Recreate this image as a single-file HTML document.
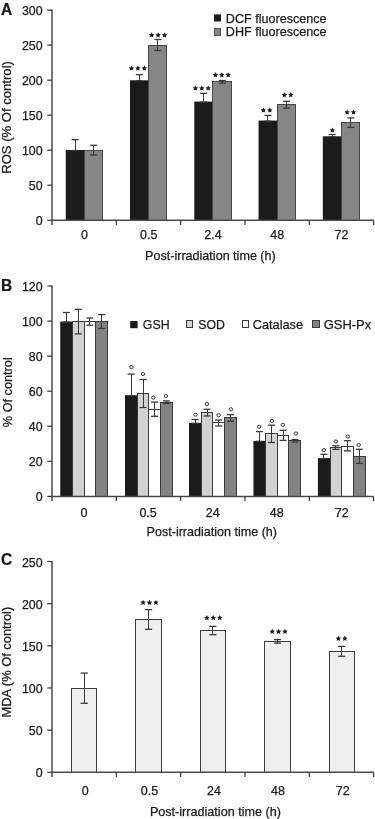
<!DOCTYPE html>
<html><head><meta charset="utf-8"><title>Figure</title>
<style>
html,body{margin:0;padding:0;background:#fff;}
body{width:375px;height:819px;overflow:hidden;}
svg{display:block;filter:blur(0.3px);}
text{font-family:"Liberation Sans",sans-serif;}
</style></head><body>
<svg width="375" height="819" viewBox="0 0 375 819" font-family="'Liberation Sans', sans-serif"><rect width="375" height="819" fill="#ffffff"/><text x="0" y="0" font-size="16" text-anchor="start" font-weight="bold" fill="#1a1a1a" stroke="#1a1a1a" stroke-width="0.25" transform="translate(0.9,14.7) scale(0.97,1)">A</text><rect x="65.75" y="150" width="18.65" height="70.3" fill="#1b1b1b"/><rect x="84.5" y="150.5" width="18.0" height="70.0" fill="#868686" stroke="#474747" stroke-width="1.0"/><rect x="130.02" y="80.3" width="18.65" height="140" fill="#1b1b1b"/><rect x="148.5" y="45.5" width="18.0" height="175.0" fill="#868686" stroke="#474747" stroke-width="1.0"/><rect x="194.29" y="101.6" width="18.65" height="118.7" fill="#1b1b1b"/><rect x="212.5" y="81.5" width="19.0" height="139.0" fill="#868686" stroke="#474747" stroke-width="1.0"/><rect x="258.56" y="120.6" width="18.65" height="99.7" fill="#1b1b1b"/><rect x="277.5" y="104.5" width="18.0" height="116.0" fill="#868686" stroke="#474747" stroke-width="1.0"/><rect x="322.83" y="136.3" width="18.65" height="84" fill="#1b1b1b"/><rect x="341.5" y="122.5" width="18.0" height="98.0" fill="#868686" stroke="#474747" stroke-width="1.0"/><line x1="75.5" y1="139.6" x2="75.5" y2="150.5" stroke="#3a3a3a" stroke-width="1.0" /><line x1="71.58" y1="139.6" x2="78.58" y2="139.6" stroke="#3a3a3a" stroke-width="1.3" /><line x1="71.58" y1="150.5" x2="78.58" y2="150.5" stroke="#3a3a3a" stroke-width="1.3" /><line x1="93.5" y1="145.3" x2="93.5" y2="155" stroke="#3a3a3a" stroke-width="1.0" /><line x1="90.23" y1="145.3" x2="97.23" y2="145.3" stroke="#3a3a3a" stroke-width="1.3" /><line x1="90.23" y1="155" x2="97.23" y2="155" stroke="#3a3a3a" stroke-width="1.3" /><line x1="139.5" y1="74.7" x2="139.5" y2="80.8" stroke="#3a3a3a" stroke-width="1.0" /><line x1="135.85" y1="74.7" x2="142.85" y2="74.7" stroke="#3a3a3a" stroke-width="1.3" /><line x1="135.85" y1="80.8" x2="142.85" y2="80.8" stroke="#3a3a3a" stroke-width="1.3" /><line x1="157.5" y1="39.5" x2="157.5" y2="50.5" stroke="#3a3a3a" stroke-width="1.0" /><line x1="154.5" y1="39.5" x2="161.5" y2="39.5" stroke="#3a3a3a" stroke-width="1.3" /><line x1="154.5" y1="50.5" x2="161.5" y2="50.5" stroke="#3a3a3a" stroke-width="1.3" /><line x1="203.5" y1="93.3" x2="203.5" y2="102.1" stroke="#3a3a3a" stroke-width="1.0" /><line x1="200.12" y1="93.3" x2="207.12" y2="93.3" stroke="#3a3a3a" stroke-width="1.3" /><line x1="200.12" y1="102.1" x2="207.12" y2="102.1" stroke="#3a3a3a" stroke-width="1.3" /><line x1="222.5" y1="80.5" x2="222.5" y2="83.3" stroke="#3a3a3a" stroke-width="1.0" /><line x1="218.76" y1="80.5" x2="225.76" y2="80.5" stroke="#3a3a3a" stroke-width="1.3" /><line x1="218.76" y1="83.3" x2="225.76" y2="83.3" stroke="#3a3a3a" stroke-width="1.3" /><line x1="267.5" y1="115.4" x2="267.5" y2="121.1" stroke="#3a3a3a" stroke-width="1.0" /><line x1="264.39" y1="115.4" x2="271.39" y2="115.4" stroke="#3a3a3a" stroke-width="1.3" /><line x1="264.39" y1="121.1" x2="271.39" y2="121.1" stroke="#3a3a3a" stroke-width="1.3" /><line x1="286.5" y1="101.3" x2="286.5" y2="108.1" stroke="#3a3a3a" stroke-width="1.0" /><line x1="283.04" y1="101.3" x2="290.04" y2="101.3" stroke="#3a3a3a" stroke-width="1.3" /><line x1="283.04" y1="108.1" x2="290.04" y2="108.1" stroke="#3a3a3a" stroke-width="1.3" /><line x1="332.5" y1="134.5" x2="332.5" y2="136.8" stroke="#3a3a3a" stroke-width="1.0" /><line x1="328.66" y1="134.5" x2="335.66" y2="134.5" stroke="#3a3a3a" stroke-width="1.3" /><line x1="328.66" y1="136.8" x2="335.66" y2="136.8" stroke="#3a3a3a" stroke-width="1.3" /><line x1="350.5" y1="117.9" x2="350.5" y2="127.4" stroke="#3a3a3a" stroke-width="1.0" /><line x1="347.31" y1="117.9" x2="354.31" y2="117.9" stroke="#3a3a3a" stroke-width="1.3" /><line x1="347.31" y1="127.4" x2="354.31" y2="127.4" stroke="#3a3a3a" stroke-width="1.3" /><line x1="52" y1="9.5" x2="52" y2="224.9" stroke="#4a4a4a" stroke-width="1.5" /><line x1="47.3" y1="220.3" x2="52" y2="220.3" stroke="#333" stroke-width="1.2" /><text x="42.6" y="225.3" font-size="12.4" text-anchor="end" font-weight="normal" fill="#1a1a1a" stroke="#1a1a1a" stroke-width="0.25" >0</text><line x1="47.3" y1="185.27" x2="52" y2="185.27" stroke="#333" stroke-width="1.2" /><text x="42.6" y="190.27" font-size="12.4" text-anchor="end" font-weight="normal" fill="#1a1a1a" stroke="#1a1a1a" stroke-width="0.25" >50</text><line x1="47.3" y1="150.23" x2="52" y2="150.23" stroke="#333" stroke-width="1.2" /><text x="42.6" y="155.23" font-size="12.4" text-anchor="end" font-weight="normal" fill="#1a1a1a" stroke="#1a1a1a" stroke-width="0.25" >100</text><line x1="47.3" y1="115.2" x2="52" y2="115.2" stroke="#333" stroke-width="1.2" /><text x="42.6" y="120.2" font-size="12.4" text-anchor="end" font-weight="normal" fill="#1a1a1a" stroke="#1a1a1a" stroke-width="0.25" >150</text><line x1="47.3" y1="80.17" x2="52" y2="80.17" stroke="#333" stroke-width="1.2" /><text x="42.6" y="85.17" font-size="12.4" text-anchor="end" font-weight="normal" fill="#1a1a1a" stroke="#1a1a1a" stroke-width="0.25" >200</text><line x1="47.3" y1="45.13" x2="52" y2="45.13" stroke="#333" stroke-width="1.2" /><text x="42.6" y="50.13" font-size="12.4" text-anchor="end" font-weight="normal" fill="#1a1a1a" stroke="#1a1a1a" stroke-width="0.25" >250</text><line x1="47.3" y1="10.1" x2="52" y2="10.1" stroke="#333" stroke-width="1.2" /><text x="42.6" y="15.1" font-size="12.4" text-anchor="end" font-weight="normal" fill="#1a1a1a" stroke="#1a1a1a" stroke-width="0.25" >300</text><line x1="52" y1="220.3" x2="373.6" y2="220.3" stroke="#4a4a4a" stroke-width="1.5" /><line x1="116.32" y1="220.3" x2="116.32" y2="224.9" stroke="#333" stroke-width="1.2" /><line x1="180.64" y1="220.3" x2="180.64" y2="224.9" stroke="#333" stroke-width="1.2" /><line x1="244.96" y1="220.3" x2="244.96" y2="224.9" stroke="#333" stroke-width="1.2" /><line x1="309.28" y1="220.3" x2="309.28" y2="224.9" stroke="#333" stroke-width="1.2" /><line x1="373.6" y1="220.3" x2="373.6" y2="224.9" stroke="#333" stroke-width="1.2" /><text x="84.4" y="239" font-size="12.5" text-anchor="middle" font-weight="normal" fill="#1a1a1a" stroke="#1a1a1a" stroke-width="0.25" >0</text><text x="148.67" y="239" font-size="12.5" text-anchor="middle" font-weight="normal" fill="#1a1a1a" stroke="#1a1a1a" stroke-width="0.25" >0.5</text><text x="212.94" y="239" font-size="12.5" text-anchor="middle" font-weight="normal" fill="#1a1a1a" stroke="#1a1a1a" stroke-width="0.25" >2.4</text><text x="277.21" y="239" font-size="12.5" text-anchor="middle" font-weight="normal" fill="#1a1a1a" stroke="#1a1a1a" stroke-width="0.25" >48</text><text x="341.48" y="239" font-size="12.5" text-anchor="middle" font-weight="normal" fill="#1a1a1a" stroke="#1a1a1a" stroke-width="0.25" >72</text><path d="M131.50,65.45L132.34,67.15L134.21,67.42L132.86,68.74L133.18,70.61L131.50,69.72L129.82,70.61L130.14,68.74L128.79,67.42L130.66,67.15ZM137.90,65.45L138.74,67.15L140.61,67.42L139.26,68.74L139.58,70.61L137.90,69.72L136.22,70.61L136.54,68.74L135.19,67.42L137.06,67.15ZM144.30,65.45L145.14,67.15L147.01,67.42L145.66,68.74L145.98,70.61L144.30,69.72L142.62,70.61L142.94,68.74L141.59,67.42L143.46,67.15Z" fill="#1a1a1a"/><path d="M151.70,32.35L152.54,34.05L154.41,34.32L153.06,35.64L153.38,37.51L151.70,36.62L150.02,37.51L150.34,35.64L148.99,34.32L150.86,34.05ZM158.10,32.35L158.94,34.05L160.81,34.32L159.46,35.64L159.78,37.51L158.10,36.62L156.42,37.51L156.74,35.64L155.39,34.32L157.26,34.05ZM164.50,32.35L165.34,34.05L167.21,34.32L165.86,35.64L166.18,37.51L164.50,36.62L162.82,37.51L163.14,35.64L161.79,34.32L163.66,34.05Z" fill="#1a1a1a"/><path d="M195.40,85.45L196.24,87.15L198.11,87.42L196.76,88.74L197.08,90.61L195.40,89.72L193.72,90.61L194.04,88.74L192.69,87.42L194.56,87.15ZM201.80,85.45L202.64,87.15L204.51,87.42L203.16,88.74L203.48,90.61L201.80,89.72L200.12,90.61L200.44,88.74L199.09,87.42L200.96,87.15ZM208.20,85.45L209.04,87.15L210.91,87.42L209.56,88.74L209.88,90.61L208.20,89.72L206.52,90.61L206.84,88.74L205.49,87.42L207.36,87.15Z" fill="#1a1a1a"/><path d="M215.40,72.15L216.24,73.85L218.11,74.12L216.76,75.44L217.08,77.31L215.40,76.42L213.72,77.31L214.04,75.44L212.69,74.12L214.56,73.85ZM221.80,72.15L222.64,73.85L224.51,74.12L223.16,75.44L223.48,77.31L221.80,76.42L220.12,77.31L220.44,75.44L219.09,74.12L220.96,73.85ZM228.20,72.15L229.04,73.85L230.91,74.12L229.56,75.44L229.88,77.31L228.20,76.42L226.52,77.31L226.84,75.44L225.49,74.12L227.36,73.85Z" fill="#1a1a1a"/><path d="M263.40,107.45L264.24,109.15L266.11,109.42L264.76,110.74L265.08,112.61L263.40,111.72L261.72,112.61L262.04,110.74L260.69,109.42L262.56,109.15ZM269.80,107.45L270.64,109.15L272.51,109.42L271.16,110.74L271.48,112.61L269.80,111.72L268.12,112.61L268.44,110.74L267.09,109.42L268.96,109.15Z" fill="#1a1a1a"/><path d="M284.40,92.15L285.24,93.85L287.11,94.12L285.76,95.44L286.08,97.31L284.40,96.42L282.72,97.31L283.04,95.44L281.69,94.12L283.56,93.85ZM290.80,92.15L291.64,93.85L293.51,94.12L292.16,95.44L292.48,97.31L290.80,96.42L289.12,97.31L289.44,95.44L288.09,94.12L289.96,93.85Z" fill="#1a1a1a"/><path d="M332.30,127.45L333.14,129.15L335.01,129.42L333.66,130.74L333.98,132.61L332.30,131.73L330.62,132.61L330.94,130.74L329.59,129.42L331.46,129.15Z" fill="#1a1a1a"/><path d="M347.10,109.45L347.94,111.15L349.81,111.42L348.46,112.74L348.78,114.61L347.10,113.72L345.42,114.61L345.74,112.74L344.39,111.42L346.26,111.15ZM353.50,109.45L354.34,111.15L356.21,111.42L354.86,112.74L355.18,114.61L353.50,113.72L351.82,114.61L352.14,112.74L350.79,111.42L352.66,111.15Z" fill="#1a1a1a"/><rect x="214" y="14.4" width="7" height="7.1" fill="#1b1b1b"/><rect x="214.5" y="28.5" width="6.0" height="7.0" fill="#868686" stroke="#505050" stroke-width="1.0"/><text x="225.8" y="22.5" font-size="13.3" text-anchor="start" font-weight="normal" fill="#1a1a1a" stroke="#1a1a1a" stroke-width="0.25" textLength="100.8" lengthAdjust="spacingAndGlyphs" >DCF fluorescence</text><text x="225.8" y="36.2" font-size="13.3" text-anchor="start" font-weight="normal" fill="#1a1a1a" stroke="#1a1a1a" stroke-width="0.25" textLength="100.8" lengthAdjust="spacingAndGlyphs" >DHF fluorescence</text><text x="210.4" y="260.1" font-size="12.8" text-anchor="middle" font-weight="normal" fill="#1a1a1a" stroke="#1a1a1a" stroke-width="0.25" textLength="130.7" lengthAdjust="spacingAndGlyphs" >Post-irradiation time (h)</text><text x="0" y="0" font-size="12.6" text-anchor="middle" font-weight="normal" fill="#1a1a1a" stroke="#1a1a1a" stroke-width="0.25" textLength="112.7" lengthAdjust="spacingAndGlyphs" transform="translate(11.3,117.45) rotate(-90)">ROS (% Of control)</text><text x="0" y="0" font-size="16" text-anchor="start" font-weight="bold" fill="#1a1a1a" stroke="#1a1a1a" stroke-width="0.25" transform="translate(0.9,290.5) scale(0.97,1)">B</text><rect x="60.25" y="321.6" width="12.1" height="174.8" fill="#1b1b1b"/><rect x="72.5" y="321.5" width="12.0" height="175.0" fill="#d2d2d2" stroke="#3a3a3a" stroke-width="1.0"/><rect x="84.5" y="321.5" width="11.0" height="175.0" fill="#ffffff" stroke="#3a3a3a" stroke-width="1.0"/><rect x="95.5" y="321.5" width="12.0" height="175.0" fill="#838383" stroke="#3a3a3a" stroke-width="1.0"/><rect x="125" y="395.2" width="12.1" height="101.2" fill="#1b1b1b"/><rect x="137.5" y="393.5" width="11.0" height="103.0" fill="#d2d2d2" stroke="#3a3a3a" stroke-width="1.0"/><rect x="148.5" y="409.5" width="12.0" height="87.0" fill="#ffffff" stroke="#3a3a3a" stroke-width="1.0"/><rect x="160.5" y="402.5" width="12.0" height="94.0" fill="#838383" stroke="#3a3a3a" stroke-width="1.0"/><rect x="189" y="422.9" width="12.1" height="73.5" fill="#1b1b1b"/><rect x="201.5" y="412.5" width="11.0" height="84.0" fill="#d2d2d2" stroke="#3a3a3a" stroke-width="1.0"/><rect x="212.5" y="422.5" width="12.0" height="74.0" fill="#ffffff" stroke="#3a3a3a" stroke-width="1.0"/><rect x="224.5" y="417.5" width="12.0" height="79.0" fill="#838383" stroke="#3a3a3a" stroke-width="1.0"/><rect x="253.45" y="440.9" width="12.1" height="55.5" fill="#1b1b1b"/><rect x="265.5" y="433.5" width="12.0" height="63.0" fill="#d2d2d2" stroke="#3a3a3a" stroke-width="1.0"/><rect x="277.5" y="435.5" width="11.0" height="61.0" fill="#ffffff" stroke="#3a3a3a" stroke-width="1.0"/><rect x="288.5" y="440.5" width="12.0" height="56.0" fill="#838383" stroke="#3a3a3a" stroke-width="1.0"/><rect x="317.9" y="458.1" width="12.1" height="38.3" fill="#1b1b1b"/><rect x="330.5" y="447.5" width="11.0" height="49.0" fill="#d2d2d2" stroke="#3a3a3a" stroke-width="1.0"/><rect x="341.5" y="446.5" width="12.0" height="50.0" fill="#ffffff" stroke="#3a3a3a" stroke-width="1.0"/><rect x="353.5" y="456.5" width="12.0" height="40.0" fill="#838383" stroke="#3a3a3a" stroke-width="1.0"/><line x1="66.5" y1="312.5" x2="66.5" y2="322.1" stroke="#3a3a3a" stroke-width="1.0" /><line x1="62.8" y1="312.5" x2="69.8" y2="312.5" stroke="#3a3a3a" stroke-width="1.3" /><line x1="62.8" y1="322.1" x2="69.8" y2="322.1" stroke="#3a3a3a" stroke-width="1.3" /><line x1="78.5" y1="309.3" x2="78.5" y2="333.9" stroke="#3a3a3a" stroke-width="1.0" /><line x1="74.75" y1="309.3" x2="81.75" y2="309.3" stroke="#3a3a3a" stroke-width="1.3" /><line x1="74.75" y1="333.9" x2="81.75" y2="333.9" stroke="#3a3a3a" stroke-width="1.3" /><line x1="89.5" y1="318" x2="89.5" y2="325.2" stroke="#3a3a3a" stroke-width="1.0" /><line x1="86.35" y1="318" x2="93.35" y2="318" stroke="#3a3a3a" stroke-width="1.3" /><line x1="86.35" y1="325.2" x2="93.35" y2="325.2" stroke="#3a3a3a" stroke-width="1.3" /><line x1="101.5" y1="314.6" x2="101.5" y2="328.4" stroke="#3a3a3a" stroke-width="1.0" /><line x1="98.2" y1="314.6" x2="105.2" y2="314.6" stroke="#3a3a3a" stroke-width="1.3" /><line x1="98.2" y1="328.4" x2="105.2" y2="328.4" stroke="#3a3a3a" stroke-width="1.3" /><line x1="131.5" y1="374.1" x2="131.5" y2="395.7" stroke="#3a3a3a" stroke-width="1.0" /><line x1="127.55" y1="374.1" x2="134.55" y2="374.1" stroke="#3a3a3a" stroke-width="1.3" /><line x1="127.55" y1="395.7" x2="134.55" y2="395.7" stroke="#3a3a3a" stroke-width="1.3" /><line x1="143.5" y1="379.5" x2="143.5" y2="407.5" stroke="#3a3a3a" stroke-width="1.0" /><line x1="139.5" y1="379.5" x2="146.5" y2="379.5" stroke="#3a3a3a" stroke-width="1.3" /><line x1="139.5" y1="407.5" x2="146.5" y2="407.5" stroke="#3a3a3a" stroke-width="1.3" /><line x1="154.5" y1="402.1" x2="154.5" y2="416.3" stroke="#3a3a3a" stroke-width="1.0" /><line x1="151.1" y1="402.1" x2="158.1" y2="402.1" stroke="#3a3a3a" stroke-width="1.3" /><line x1="151.1" y1="416.3" x2="158.1" y2="416.3" stroke="#3a3a3a" stroke-width="1.3" /><line x1="166.5" y1="400.9" x2="166.5" y2="403.4" stroke="#3a3a3a" stroke-width="1.0" /><line x1="162.95" y1="400.9" x2="169.95" y2="400.9" stroke="#3a3a3a" stroke-width="1.3" /><line x1="162.95" y1="403.4" x2="169.95" y2="403.4" stroke="#3a3a3a" stroke-width="1.3" /><ellipse cx="131.4" cy="367.1" rx="1.75" ry="1.55" fill="none" stroke="#2a2a2a" stroke-width="0.95"/><ellipse cx="143" cy="374" rx="1.75" ry="1.55" fill="none" stroke="#2a2a2a" stroke-width="0.95"/><ellipse cx="153.3" cy="397.6" rx="1.75" ry="1.55" fill="none" stroke="#2a2a2a" stroke-width="0.95"/><ellipse cx="165.9" cy="396" rx="1.75" ry="1.55" fill="none" stroke="#2a2a2a" stroke-width="0.95"/><line x1="195.5" y1="419.5" x2="195.5" y2="423.4" stroke="#3a3a3a" stroke-width="1.0" /><line x1="191.55" y1="419.5" x2="198.55" y2="419.5" stroke="#3a3a3a" stroke-width="1.3" /><line x1="191.55" y1="423.4" x2="198.55" y2="423.4" stroke="#3a3a3a" stroke-width="1.3" /><line x1="207.5" y1="409.3" x2="207.5" y2="416" stroke="#3a3a3a" stroke-width="1.0" /><line x1="203.5" y1="409.3" x2="210.5" y2="409.3" stroke="#3a3a3a" stroke-width="1.3" /><line x1="203.5" y1="416" x2="210.5" y2="416" stroke="#3a3a3a" stroke-width="1.3" /><line x1="218.5" y1="420" x2="218.5" y2="426" stroke="#3a3a3a" stroke-width="1.0" /><line x1="215.1" y1="420" x2="222.1" y2="420" stroke="#3a3a3a" stroke-width="1.3" /><line x1="215.1" y1="426" x2="222.1" y2="426" stroke="#3a3a3a" stroke-width="1.3" /><line x1="230.5" y1="414.7" x2="230.5" y2="421.3" stroke="#3a3a3a" stroke-width="1.0" /><line x1="226.95" y1="414.7" x2="233.95" y2="414.7" stroke="#3a3a3a" stroke-width="1.3" /><line x1="226.95" y1="421.3" x2="233.95" y2="421.3" stroke="#3a3a3a" stroke-width="1.3" /><ellipse cx="195.4" cy="414.7" rx="1.75" ry="1.55" fill="none" stroke="#2a2a2a" stroke-width="0.95"/><ellipse cx="206.9" cy="404" rx="1.75" ry="1.55" fill="none" stroke="#2a2a2a" stroke-width="0.95"/><ellipse cx="218.6" cy="415.2" rx="1.75" ry="1.55" fill="none" stroke="#2a2a2a" stroke-width="0.95"/><ellipse cx="230.9" cy="409.3" rx="1.75" ry="1.55" fill="none" stroke="#2a2a2a" stroke-width="0.95"/><line x1="259.5" y1="431.6" x2="259.5" y2="441.4" stroke="#3a3a3a" stroke-width="1.0" /><line x1="256" y1="431.6" x2="263" y2="431.6" stroke="#3a3a3a" stroke-width="1.3" /><line x1="256" y1="441.4" x2="263" y2="441.4" stroke="#3a3a3a" stroke-width="1.3" /><line x1="271.5" y1="425.2" x2="271.5" y2="442.5" stroke="#3a3a3a" stroke-width="1.0" /><line x1="267.95" y1="425.2" x2="274.95" y2="425.2" stroke="#3a3a3a" stroke-width="1.3" /><line x1="267.95" y1="442.5" x2="274.95" y2="442.5" stroke="#3a3a3a" stroke-width="1.3" /><line x1="283.5" y1="430.3" x2="283.5" y2="440.4" stroke="#3a3a3a" stroke-width="1.0" /><line x1="279.55" y1="430.3" x2="286.55" y2="430.3" stroke="#3a3a3a" stroke-width="1.3" /><line x1="279.55" y1="440.4" x2="286.55" y2="440.4" stroke="#3a3a3a" stroke-width="1.3" /><line x1="294.5" y1="439.6" x2="294.5" y2="442" stroke="#3a3a3a" stroke-width="1.0" /><line x1="291.4" y1="439.6" x2="298.4" y2="439.6" stroke="#3a3a3a" stroke-width="1.3" /><line x1="291.4" y1="442" x2="298.4" y2="442" stroke="#3a3a3a" stroke-width="1.3" /><ellipse cx="259.1" cy="426.8" rx="1.75" ry="1.55" fill="none" stroke="#2a2a2a" stroke-width="0.95"/><ellipse cx="271.9" cy="420.9" rx="1.75" ry="1.55" fill="none" stroke="#2a2a2a" stroke-width="0.95"/><ellipse cx="282.8" cy="424.9" rx="1.75" ry="1.55" fill="none" stroke="#2a2a2a" stroke-width="0.95"/><ellipse cx="295.9" cy="433.5" rx="1.75" ry="1.55" fill="none" stroke="#2a2a2a" stroke-width="0.95"/><line x1="323.5" y1="454.3" x2="323.5" y2="458.6" stroke="#3a3a3a" stroke-width="1.0" /><line x1="320.45" y1="454.3" x2="327.45" y2="454.3" stroke="#3a3a3a" stroke-width="1.3" /><line x1="320.45" y1="458.6" x2="327.45" y2="458.6" stroke="#3a3a3a" stroke-width="1.3" /><line x1="335.5" y1="445.8" x2="335.5" y2="449.4" stroke="#3a3a3a" stroke-width="1.0" /><line x1="332.4" y1="445.8" x2="339.4" y2="445.8" stroke="#3a3a3a" stroke-width="1.3" /><line x1="332.4" y1="449.4" x2="339.4" y2="449.4" stroke="#3a3a3a" stroke-width="1.3" /><line x1="347.5" y1="440.7" x2="347.5" y2="450.9" stroke="#3a3a3a" stroke-width="1.0" /><line x1="344" y1="440.7" x2="351" y2="440.7" stroke="#3a3a3a" stroke-width="1.3" /><line x1="344" y1="450.9" x2="351" y2="450.9" stroke="#3a3a3a" stroke-width="1.3" /><line x1="359.5" y1="449.3" x2="359.5" y2="463.4" stroke="#3a3a3a" stroke-width="1.0" /><line x1="355.85" y1="449.3" x2="362.85" y2="449.3" stroke="#3a3a3a" stroke-width="1.3" /><line x1="355.85" y1="463.4" x2="362.85" y2="463.4" stroke="#3a3a3a" stroke-width="1.3" /><ellipse cx="323.8" cy="450.1" rx="1.75" ry="1.55" fill="none" stroke="#2a2a2a" stroke-width="0.95"/><ellipse cx="335.8" cy="441.5" rx="1.75" ry="1.55" fill="none" stroke="#2a2a2a" stroke-width="0.95"/><ellipse cx="347.8" cy="436.5" rx="1.75" ry="1.55" fill="none" stroke="#2a2a2a" stroke-width="0.95"/><ellipse cx="358.7" cy="445" rx="1.75" ry="1.55" fill="none" stroke="#2a2a2a" stroke-width="0.95"/><line x1="52" y1="285.4" x2="52" y2="501" stroke="#4a4a4a" stroke-width="1.5" /><line x1="47.3" y1="496.4" x2="52" y2="496.4" stroke="#333" stroke-width="1.2" /><text x="42.6" y="501.4" font-size="12.4" text-anchor="end" font-weight="normal" fill="#1a1a1a" stroke="#1a1a1a" stroke-width="0.25" >0</text><line x1="47.3" y1="461.33" x2="52" y2="461.33" stroke="#333" stroke-width="1.2" /><text x="42.6" y="466.33" font-size="12.4" text-anchor="end" font-weight="normal" fill="#1a1a1a" stroke="#1a1a1a" stroke-width="0.25" >20</text><line x1="47.3" y1="426.27" x2="52" y2="426.27" stroke="#333" stroke-width="1.2" /><text x="42.6" y="431.27" font-size="12.4" text-anchor="end" font-weight="normal" fill="#1a1a1a" stroke="#1a1a1a" stroke-width="0.25" >40</text><line x1="47.3" y1="391.2" x2="52" y2="391.2" stroke="#333" stroke-width="1.2" /><text x="42.6" y="396.2" font-size="12.4" text-anchor="end" font-weight="normal" fill="#1a1a1a" stroke="#1a1a1a" stroke-width="0.25" >60</text><line x1="47.3" y1="356.13" x2="52" y2="356.13" stroke="#333" stroke-width="1.2" /><text x="42.6" y="361.13" font-size="12.4" text-anchor="end" font-weight="normal" fill="#1a1a1a" stroke="#1a1a1a" stroke-width="0.25" >80</text><line x1="47.3" y1="321.07" x2="52" y2="321.07" stroke="#333" stroke-width="1.2" /><text x="42.6" y="326.07" font-size="12.4" text-anchor="end" font-weight="normal" fill="#1a1a1a" stroke="#1a1a1a" stroke-width="0.25" >100</text><line x1="47.3" y1="286" x2="52" y2="286" stroke="#333" stroke-width="1.2" /><text x="42.6" y="291" font-size="12.4" text-anchor="end" font-weight="normal" fill="#1a1a1a" stroke="#1a1a1a" stroke-width="0.25" >120</text><line x1="52" y1="496.4" x2="373.6" y2="496.4" stroke="#4a4a4a" stroke-width="1.5" /><line x1="116.32" y1="496.4" x2="116.32" y2="501" stroke="#333" stroke-width="1.2" /><line x1="180.64" y1="496.4" x2="180.64" y2="501" stroke="#333" stroke-width="1.2" /><line x1="244.96" y1="496.4" x2="244.96" y2="501" stroke="#333" stroke-width="1.2" /><line x1="309.28" y1="496.4" x2="309.28" y2="501" stroke="#333" stroke-width="1.2" /><line x1="373.6" y1="496.4" x2="373.6" y2="501" stroke="#333" stroke-width="1.2" /><text x="84.1" y="516.8" font-size="12.5" text-anchor="middle" font-weight="normal" fill="#1a1a1a" stroke="#1a1a1a" stroke-width="0.25" >0</text><text x="148.1" y="516.8" font-size="12.5" text-anchor="middle" font-weight="normal" fill="#1a1a1a" stroke="#1a1a1a" stroke-width="0.25" >0.5</text><text x="212.7" y="516.8" font-size="12.5" text-anchor="middle" font-weight="normal" fill="#1a1a1a" stroke="#1a1a1a" stroke-width="0.25" >24</text><text x="276.7" y="516.8" font-size="12.5" text-anchor="middle" font-weight="normal" fill="#1a1a1a" stroke="#1a1a1a" stroke-width="0.25" >48</text><text x="341.7" y="516.8" font-size="12.5" text-anchor="middle" font-weight="normal" fill="#1a1a1a" stroke="#1a1a1a" stroke-width="0.25" >72</text><rect x="130.2" y="321" width="7.4" height="7.2" fill="#1b1b1b"/><rect x="186.5" y="320.5" width="6.0" height="7.0" fill="#d2d2d2" stroke="#3a3a3a" stroke-width="1.0"/><rect x="242.5" y="320.5" width="6.0" height="7.0" fill="#ffffff" stroke="#3a3a3a" stroke-width="1.0"/><rect x="312.5" y="320.5" width="7.0" height="7.0" fill="#838383" stroke="#3a3a3a" stroke-width="1.0"/><text x="142.8" y="329.3" font-size="13.3" text-anchor="start" font-weight="normal" fill="#1a1a1a" stroke="#1a1a1a" stroke-width="0.25" textLength="26.8" lengthAdjust="spacingAndGlyphs" >GSH</text><text x="198.3" y="329.3" font-size="13.3" text-anchor="start" font-weight="normal" fill="#1a1a1a" stroke="#1a1a1a" stroke-width="0.25" textLength="26.6" lengthAdjust="spacingAndGlyphs" >SOD</text><text x="252.7" y="329.3" font-size="13.3" text-anchor="start" font-weight="normal" fill="#1a1a1a" stroke="#1a1a1a" stroke-width="0.25" textLength="50.4" lengthAdjust="spacingAndGlyphs" >Catalase</text><text x="323.8" y="329.3" font-size="13.3" text-anchor="start" font-weight="normal" fill="#1a1a1a" stroke="#1a1a1a" stroke-width="0.25" textLength="47.4" lengthAdjust="spacingAndGlyphs" >GSH-Px</text><text x="211.8" y="536.1" font-size="12.8" text-anchor="middle" font-weight="normal" fill="#1a1a1a" stroke="#1a1a1a" stroke-width="0.25" textLength="130.4" lengthAdjust="spacingAndGlyphs" >Post-irradiation time (h)</text><text x="0" y="0" font-size="12.6" text-anchor="middle" font-weight="normal" fill="#1a1a1a" stroke="#1a1a1a" stroke-width="0.25" textLength="69.9" lengthAdjust="spacingAndGlyphs" transform="translate(11.6,392.25) rotate(-90)">% Of control</text><text x="0" y="0" font-size="16" text-anchor="start" font-weight="bold" fill="#1a1a1a" stroke="#1a1a1a" stroke-width="0.25" transform="translate(0.9,565.0) scale(0.97,1)">C</text><rect x="71.5" y="688.5" width="25.0" height="84.0" fill="#efefef" stroke="#3c3c3c" stroke-width="1.0"/><rect x="135.5" y="619.5" width="26.0" height="153.0" fill="#efefef" stroke="#3c3c3c" stroke-width="1.0"/><rect x="200.5" y="630.5" width="25.0" height="142.0" fill="#efefef" stroke="#3c3c3c" stroke-width="1.0"/><rect x="264.5" y="641.5" width="26.0" height="131.0" fill="#efefef" stroke="#3c3c3c" stroke-width="1.0"/><rect x="329.5" y="651.5" width="25.0" height="121.0" fill="#efefef" stroke="#3c3c3c" stroke-width="1.0"/><line x1="84.5" y1="673.1" x2="84.5" y2="703.3" stroke="#3a3a3a" stroke-width="1.0" /><line x1="80.6" y1="673.1" x2="87.8" y2="673.1" stroke="#3a3a3a" stroke-width="1.3" /><line x1="80.6" y1="703.3" x2="87.8" y2="703.3" stroke="#3a3a3a" stroke-width="1.3" /><line x1="148.5" y1="609.6" x2="148.5" y2="629.3" stroke="#3a3a3a" stroke-width="1.0" /><line x1="144.95" y1="609.6" x2="152.15" y2="609.6" stroke="#3a3a3a" stroke-width="1.3" /><line x1="144.95" y1="629.3" x2="152.15" y2="629.3" stroke="#3a3a3a" stroke-width="1.3" /><line x1="212.5" y1="626.4" x2="212.5" y2="634.7" stroke="#3a3a3a" stroke-width="1.0" /><line x1="209.25" y1="626.4" x2="216.45" y2="626.4" stroke="#3a3a3a" stroke-width="1.3" /><line x1="209.25" y1="634.7" x2="216.45" y2="634.7" stroke="#3a3a3a" stroke-width="1.3" /><line x1="277.5" y1="639.6" x2="277.5" y2="643.1" stroke="#3a3a3a" stroke-width="1.0" /><line x1="273.85" y1="639.6" x2="281.05" y2="639.6" stroke="#3a3a3a" stroke-width="1.3" /><line x1="273.85" y1="643.1" x2="281.05" y2="643.1" stroke="#3a3a3a" stroke-width="1.3" /><line x1="341.5" y1="646.4" x2="341.5" y2="656.3" stroke="#3a3a3a" stroke-width="1.0" /><line x1="338.05" y1="646.4" x2="345.25" y2="646.4" stroke="#3a3a3a" stroke-width="1.3" /><line x1="338.05" y1="656.3" x2="345.25" y2="656.3" stroke="#3a3a3a" stroke-width="1.3" /><line x1="52" y1="560.9" x2="52" y2="776.9" stroke="#4a4a4a" stroke-width="1.5" /><line x1="47.3" y1="772.3" x2="52" y2="772.3" stroke="#333" stroke-width="1.2" /><text x="42.6" y="777.3" font-size="12.4" text-anchor="end" font-weight="normal" fill="#1a1a1a" stroke="#1a1a1a" stroke-width="0.25" >0</text><line x1="47.3" y1="730.14" x2="52" y2="730.14" stroke="#333" stroke-width="1.2" /><text x="42.6" y="735.14" font-size="12.4" text-anchor="end" font-weight="normal" fill="#1a1a1a" stroke="#1a1a1a" stroke-width="0.25" >50</text><line x1="47.3" y1="687.98" x2="52" y2="687.98" stroke="#333" stroke-width="1.2" /><text x="42.6" y="692.98" font-size="12.4" text-anchor="end" font-weight="normal" fill="#1a1a1a" stroke="#1a1a1a" stroke-width="0.25" >100</text><line x1="47.3" y1="645.82" x2="52" y2="645.82" stroke="#333" stroke-width="1.2" /><text x="42.6" y="650.82" font-size="12.4" text-anchor="end" font-weight="normal" fill="#1a1a1a" stroke="#1a1a1a" stroke-width="0.25" >150</text><line x1="47.3" y1="603.66" x2="52" y2="603.66" stroke="#333" stroke-width="1.2" /><text x="42.6" y="608.66" font-size="12.4" text-anchor="end" font-weight="normal" fill="#1a1a1a" stroke="#1a1a1a" stroke-width="0.25" >200</text><line x1="47.3" y1="561.5" x2="52" y2="561.5" stroke="#333" stroke-width="1.2" /><text x="42.6" y="566.5" font-size="12.4" text-anchor="end" font-weight="normal" fill="#1a1a1a" stroke="#1a1a1a" stroke-width="0.25" >250</text><line x1="52" y1="772.3" x2="373.6" y2="772.3" stroke="#4a4a4a" stroke-width="1.5" /><line x1="116.32" y1="772.3" x2="116.32" y2="776.9" stroke="#333" stroke-width="1.2" /><line x1="180.64" y1="772.3" x2="180.64" y2="776.9" stroke="#333" stroke-width="1.2" /><line x1="244.96" y1="772.3" x2="244.96" y2="776.9" stroke="#333" stroke-width="1.2" /><line x1="309.28" y1="772.3" x2="309.28" y2="776.9" stroke="#333" stroke-width="1.2" /><line x1="373.6" y1="772.3" x2="373.6" y2="776.9" stroke="#333" stroke-width="1.2" /><text x="85.2" y="794.5" font-size="12.5" text-anchor="middle" font-weight="normal" fill="#1a1a1a" stroke="#1a1a1a" stroke-width="0.25" >0</text><text x="149.4" y="794.5" font-size="12.5" text-anchor="middle" font-weight="normal" fill="#1a1a1a" stroke="#1a1a1a" stroke-width="0.25" >0.5</text><text x="213.9" y="794.5" font-size="12.5" text-anchor="middle" font-weight="normal" fill="#1a1a1a" stroke="#1a1a1a" stroke-width="0.25" >24</text><text x="278" y="794.5" font-size="12.5" text-anchor="middle" font-weight="normal" fill="#1a1a1a" stroke="#1a1a1a" stroke-width="0.25" >48</text><text x="342.8" y="794.5" font-size="12.5" text-anchor="middle" font-weight="normal" fill="#1a1a1a" stroke="#1a1a1a" stroke-width="0.25" >72</text><path d="M143.10,599.75L143.94,601.45L145.81,601.72L144.46,603.04L144.78,604.91L143.10,604.02L141.42,604.91L141.74,603.04L140.39,601.72L142.26,601.45ZM149.50,599.75L150.34,601.45L152.21,601.72L150.86,603.04L151.18,604.91L149.50,604.02L147.82,604.91L148.14,603.04L146.79,601.72L148.66,601.45ZM155.90,599.75L156.74,601.45L158.61,601.72L157.26,603.04L157.58,604.91L155.90,604.02L154.22,604.91L154.54,603.04L153.19,601.72L155.06,601.45Z" fill="#1a1a1a"/><path d="M206.90,615.05L207.74,616.75L209.61,617.02L208.26,618.34L208.58,620.21L206.90,619.32L205.22,620.21L205.54,618.34L204.19,617.02L206.06,616.75ZM213.30,615.05L214.14,616.75L216.01,617.02L214.66,618.34L214.98,620.21L213.30,619.32L211.62,620.21L211.94,618.34L210.59,617.02L212.46,616.75ZM219.70,615.05L220.54,616.75L222.41,617.02L221.06,618.34L221.38,620.21L219.70,619.32L218.02,620.21L218.34,618.34L216.99,617.02L218.86,616.75Z" fill="#1a1a1a"/><path d="M272.20,628.75L273.04,630.45L274.91,630.72L273.56,632.04L273.88,633.91L272.20,633.02L270.52,633.91L270.84,632.04L269.49,630.72L271.36,630.45ZM278.60,628.75L279.44,630.45L281.31,630.72L279.96,632.04L280.28,633.91L278.60,633.02L276.92,633.91L277.24,632.04L275.89,630.72L277.76,630.45ZM285.00,628.75L285.84,630.45L287.71,630.72L286.36,632.04L286.68,633.91L285.00,633.02L283.32,633.91L283.64,632.04L282.29,630.72L284.16,630.45Z" fill="#1a1a1a"/><path d="M338.40,635.75L339.24,637.45L341.11,637.72L339.76,639.04L340.08,640.91L338.40,640.02L336.72,640.91L337.04,639.04L335.69,637.72L337.56,637.45ZM344.80,635.75L345.64,637.45L347.51,637.72L346.16,639.04L346.48,640.91L344.80,640.02L343.12,640.91L343.44,639.04L342.09,637.72L343.96,637.45Z" fill="#1a1a1a"/><text x="215.4" y="815.8" font-size="12.8" text-anchor="middle" font-weight="normal" fill="#1a1a1a" stroke="#1a1a1a" stroke-width="0.25" textLength="131" lengthAdjust="spacingAndGlyphs" >Post-irradiation time (h)</text><text x="0" y="0" font-size="12.6" text-anchor="middle" font-weight="normal" fill="#1a1a1a" stroke="#1a1a1a" stroke-width="0.25" textLength="110.8" lengthAdjust="spacingAndGlyphs" transform="translate(11.1,662.2) rotate(-90)">MDA (% Of control)</text></svg>
</body></html>
